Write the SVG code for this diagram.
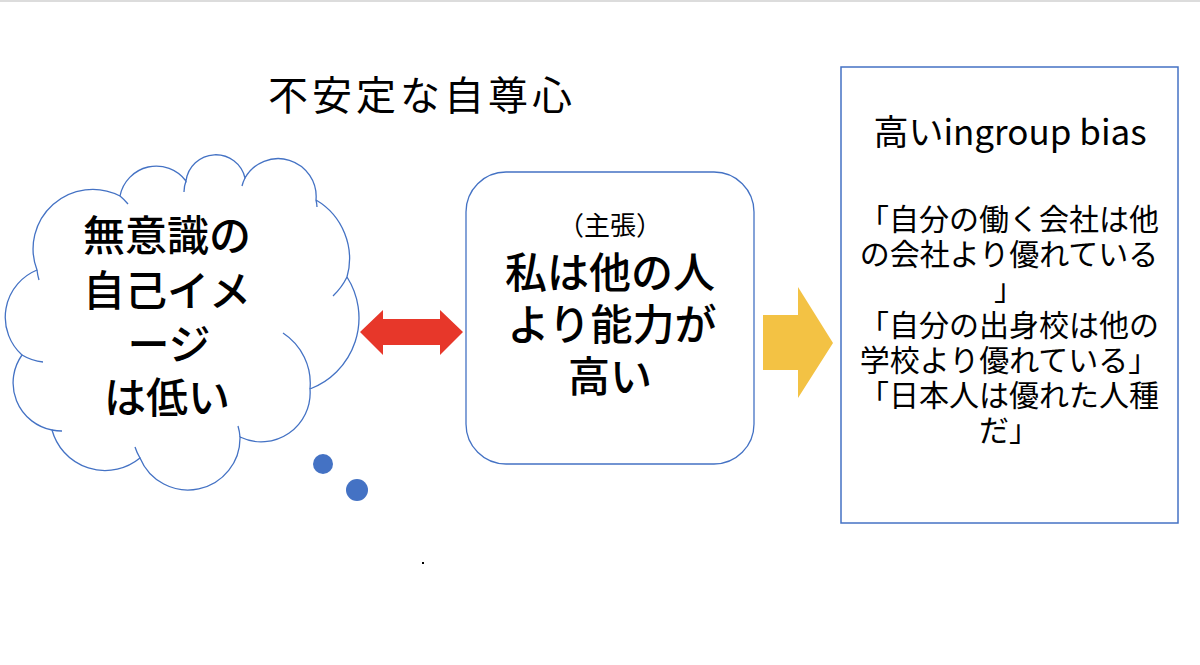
<svg xmlns="http://www.w3.org/2000/svg" width="1200" height="665" viewBox="0 0 1200 665">
<style>
.t{font-family:"Noto Sans CJK JP","Noto Sans",sans-serif;fill:#000;}
.ln{fill:none;stroke:#4472C4;stroke-width:1.3;}
</style>
<rect x="0" y="0" width="1200" height="665" fill="#fff"/>
<rect x="0" y="0" width="1200" height="2" fill="#dcdcdc"/>

<g id="title">
<text class="t" x="268" y="110" font-size="40" letter-spacing="4">不安定な自尊心</text>
</g>

<g id="cloud">
<path fill="#fff" stroke="#4472C4" stroke-width="1.3" d="M37,270 A59.5,59.5 0 0 1 120,196 A37,37 0 0 1 186,181 A30,30 0 0 1 245,178 A38,38 0 0 1 316,200 A68,68 0 0 1 347,277 A76,76 0 0 1 310,389 A49,49 0 0 1 240,437 A52,52 0 0 1 140,458 A55,55 0 0 1 52,430 A48,48 0 0 1 22,355 A51,51 0 0 1 37,270 Z"/>
<path class="ln" d="M39,280 A59.5,59.5 0 0 1 37,270 M120,196 A59.5,59.5 0 0 1 128,204 M184,192 A30,30 0 0 1 186,181 M242,186 A38,38 0 0 1 245,178 M316,200 A38,38 0 0 1 317,207 M347,277 A68,68 0 0 1 333,296 M283,333 A60,60 0 0 1 310,389 M238,426 A52,52 0 0 1 240,437 M140,458 A52,52 0 0 1 135,447 M62,431 A48,48 0 0 1 52,430 M43,362 A51,51 0 0 1 22,355"/>
<circle cx="323" cy="464" r="10" fill="#4472C4"/>
<circle cx="357" cy="490" r="11" fill="#4472C4"/>
<g class="t" font-size="42" font-weight="500" text-anchor="middle">
<text x="167" y="251">無意識の</text>
<text x="167" y="306">自己イメ</text>
<text x="169" y="360">ージ</text>
<text x="167" y="413">は低い</text>
</g>
</g>

<g id="claim">
<rect x="466" y="172" width="288" height="292" rx="40" ry="40" fill="#fff" stroke="#4472C4" stroke-width="1.3"/>
<g class="t" text-anchor="middle">
<text x="610" y="235" font-size="26">（主張）</text>
<text x="610" y="288" font-size="42" font-weight="500">私は他の人</text>
<text x="612" y="340" font-size="42" font-weight="500">より能力が</text>
<text x="610" y="392" font-size="42" font-weight="500">高い</text>
</g>
</g>

<g id="bias">
<rect x="841" y="67" width="337" height="456" fill="#fff" stroke="#4472C4" stroke-width="1.5"/>
<g class="t" text-anchor="middle">
<text x="1010" y="145" font-size="35">高いingroup bias</text>
<g font-size="30">
<text x="1009" y="230">「自分の働く会社は他</text>
<text x="1009" y="265">の会社より優れている</text>
<text x="1009" y="300">」</text>
<text x="1009" y="336">「自分の出身校は他の</text>
<text x="1009" y="371">学校より優れている」</text>
<text x="1009" y="406">「日本人は優れた人種</text>
<text x="1009" y="441">だ」</text>
</g>
</g>
</g>

<g id="connectors">
<polygon fill="#E7372A" points="360,332 383,310 383,319 440,319 440,310 463,332 440,355 440,345 383,345 383,355"/>
<polygon fill="#F3C244" points="763,315 798,315 798,287 833,343 798,398 798,370 763,370"/>
</g>

<rect x="422" y="562" width="2" height="2" fill="#000"/>
</svg>
